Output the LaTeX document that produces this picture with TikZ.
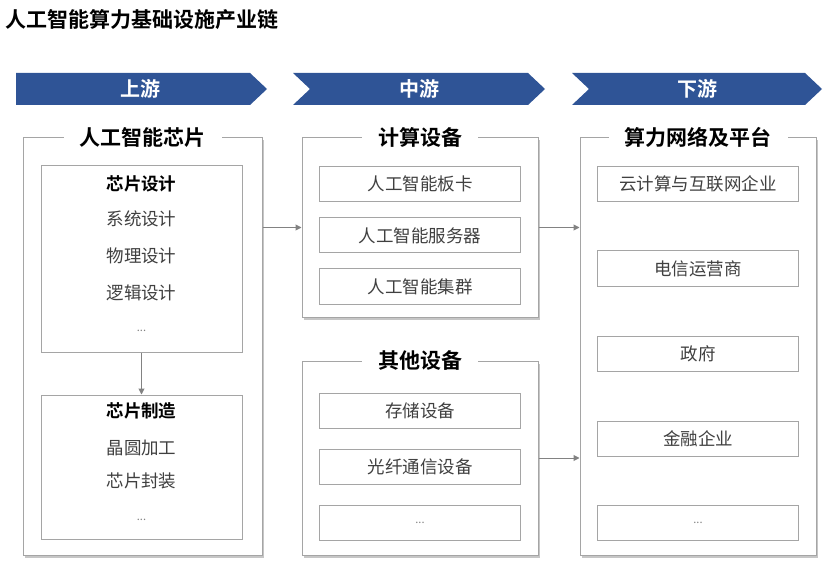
\documentclass[tikz,border=0pt]{standalone}
\usepackage{fontspec}
\setmainfont{Noto Sans CJK SC}[BoldFont={Noto Sans CJK SC Bold}]
\usetikzlibrary{shadows,arrows.meta}

\definecolor{bannerblue}{RGB}{47,84,150}
\definecolor{framegray}{RGB}{165,165,165}
\definecolor{itemgray}{RGB}{64,64,64}
\definecolor{arrowgray}{RGB}{130,130,130}

\tikzset{
    groupbox/.style={draw=framegray, line width=1pt, fill=white,
        drop shadow={shadow xshift=2pt, shadow yshift=-2.5pt, opacity=0.45}},
    grouptitle/.style={fill=white, inner xsep=16pt, inner ysep=2pt,
        font=\fontsize{21}{25}\selectfont\bfseries},
    itembox/.style={draw=framegray, line width=1pt, minimum width=201pt,
        minimum height=35pt, text=itemgray, font=\fontsize{17.5}{20}\selectfont},
    listbox/.style={draw=framegray, line width=1pt, minimum width=201pt},
    listhead/.style={font=\fontsize{17.5}{20}\selectfont\bfseries},
    listline/.style={text=itemgray, font=\fontsize{17.5}{20}\selectfont},
    dots/.style={text=arrowgray, font=\fontsize{11}{13}\selectfont},
    bannertext/.style={text=white, font=\fontsize{20}{24}\selectfont\bfseries},
    flow/.style={draw=arrowgray, line width=1pt, -{Triangle[width=6pt,length=6pt]}}
}

\begin{document}
\begin{tikzpicture}[x=1pt,y=-1pt]
    \useasboundingbox (0,0) rectangle (831,567);

    % Title
    \node[anchor=west, inner xsep=0pt, font=\fontsize{21}{25}\selectfont\bfseries] (title) at (5,20) {人工智能算力基础设施产业链};

    % Banners
    \fill[bannerblue] (16,73) -- (250,73) -- (267,89) -- (250,105) -- (16,105) -- cycle;
    \fill[bannerblue] (293,73) -- (528,73) -- (545,89) -- (528,105) -- (293,105) -- (310,89) -- cycle;
    \fill[bannerblue] (572,73) -- (805,73) -- (822,89) -- (805,105) -- (572,105) -- (589,89) -- cycle;
    \node[bannertext] (up) at (140,89) {上游};
    \node[bannertext] (mid) at (419,89) {中游};
    \node[bannertext] (down) at (697,89) {下游};

    % Group boxes
    \node[groupbox, minimum width=239pt, minimum height=417pt] (chips) at (142.5,346.5) {};
    \node[groupbox, minimum width=236pt, minimum height=179pt] (compute) at (420,227.5) {};
    \node[groupbox, minimum width=236pt, minimum height=194pt] (other) at (420,458) {};
    \node[groupbox, minimum width=236pt, minimum height=417pt] (platform) at (698,346.5) {};

    \node[grouptitle] (chipstitle) at (chips.north) {人工智能芯片};
    \node[grouptitle] (computetitle) at (compute.north) {计算设备};
    \node[grouptitle] (othertitle) at (other.north) {其他设备};
    \node[grouptitle] (platformtitle) at (platform.north) {算力网络及平台};

    % Chip design and manufacturing
    \node[listbox, minimum height=186pt] (design) at (141.5,259) {};
    \node[listhead] (designhead) at (141.5,184) {芯片设计};
    \node[listline] (sysdesign) at (141.5,219) {系统设计};
    \node[listline] (physdesign) at (141.5,256) {物理设计};
    \node[listline] (logicdesign) at (141.5,293) {逻辑设计};
    \node[dots] (designdots) at (141.5,331) {...};

    \node[listbox, minimum height=144pt] (making) at (141.5,467) {};
    \node[listhead] (makinghead) at (141.5,411) {芯片制造};
    \node[listline] (wafer) at (141.5,448) {晶圆加工};
    \node[listline] (package) at (141.5,481) {芯片封装};
    \node[dots] (makingdots) at (141.5,520) {...};

    % Computing devices
    \node[itembox] (card) at (420,184) {人工智能板卡};
    \node[itembox] (server) at (420,235.5) {人工智能服务器};
    \node[itembox] (cluster) at (420,286.5) {人工智能集群};

    % Other devices
    \node[itembox] (storage) at (420,411) {存储设备};
    \node[itembox] (fiber) at (420,466.5) {光纤通信设备};
    \node[itembox] (otherdots) at (420,523) {};
    \node[dots] at (otherdots) {...};

    % Networks and platforms
    \node[itembox] (cloud) at (698,184) {云计算与互联网企业};
    \node[itembox] (telecom) at (698,268.5) {电信运营商};
    \node[itembox] (gov) at (698,354) {政府};
    \node[itembox] (finance) at (698,438.5) {金融企业};
    \node[itembox] (platformdots) at (698,523) {};
    \node[dots] at (platformdots) {...};

    % Connectors
    \draw[flow] (design.south) -- (making.north);
    \draw[flow] (chips.east |- compute.west) -- (compute.west);
    \draw[flow] (compute.east) -- (compute.east -| platform.west);
    \draw[flow] (other.east) -- (other.east -| platform.west);
\end{tikzpicture}
\end{document}
